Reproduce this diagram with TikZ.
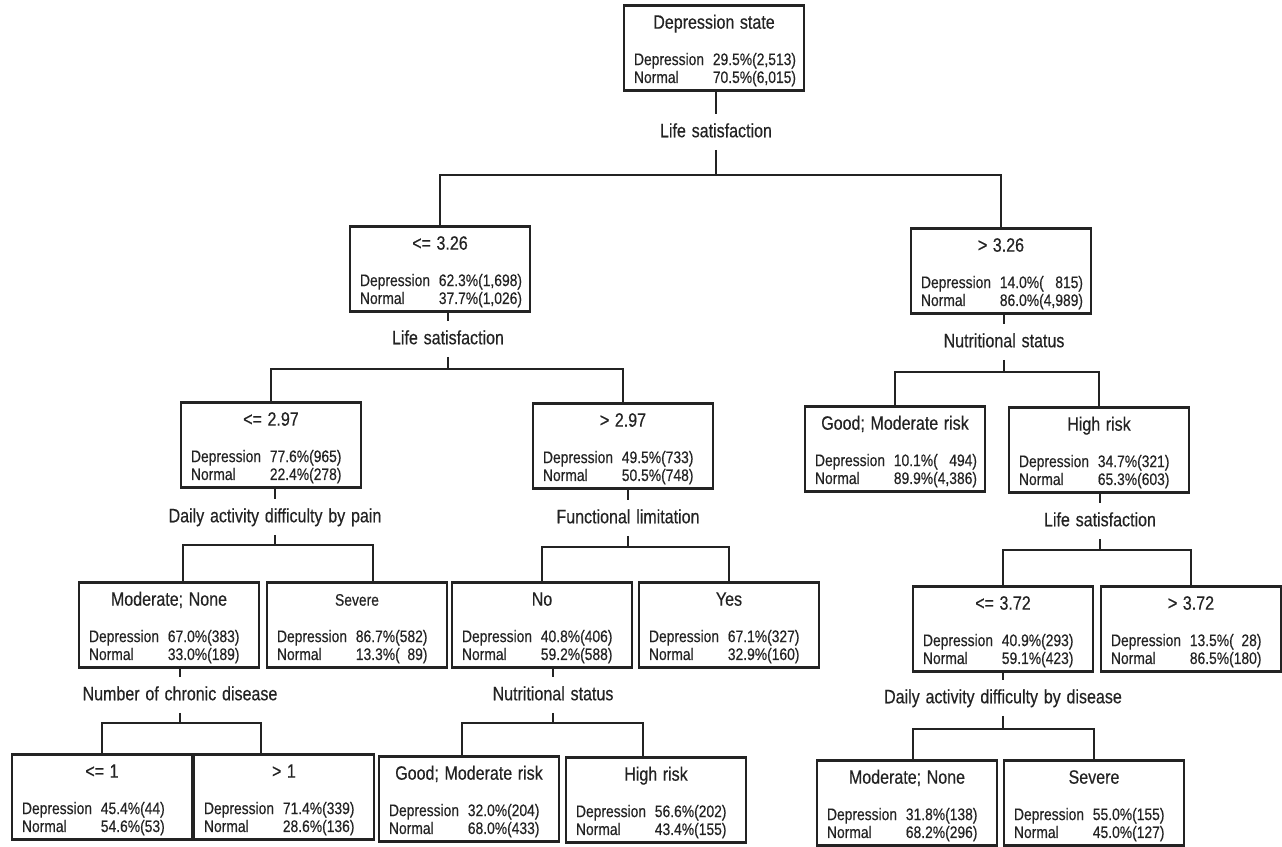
\documentclass[tikz,border=0pt]{standalone}
\usepackage{fontspec}
\setmainfont{Liberation Sans}[FakeStretch=0.83, WordSpace=1.3, FakeBold=0.4]
\usetikzlibrary{positioning}
\definecolor{ink}{RGB}{35,35,35}
\newcommand{\ttlfont}{\fontsize{11}{12.5}\selectfont}
\newcommand{\bodyfont}{\fontsize{9.5}{10.2}\selectfont}
\newcommand{\boxtext}[3]{\makebox[\linewidth]{\ttlfont\rule{0pt}{12pt}#1}\\[10.5pt]%
  \begin{tabular}[t]{@{}l@{\hspace{5pt}}r@{}}Depression & #2\\ Normal & #3\end{tabular}}
\tikzstyle{leaf} = [rectangle, draw=ink, line width=1.4pt, text=ink, text width=3.2cm, inner xsep=0.2cm, inner ysep=0pt, minimum height=1.7cm, align=left, font=\bodyfont]
\tikzstyle{split} = [text=ink, font=\fontsize{11}{12.5}\selectfont, text height=8pt, text depth=2pt, inner ysep=5pt]
\tikzstyle{conn} = [draw=ink, line width=0.9pt]

\begin{document}
\begin{tikzpicture}[x=0.02cm, y=-0.02cm]
\useasboundingbox (0,0) rectangle (1282,847);

% root
\node (root) [leaf] at (714,48) {\boxtext{Depression state}{29.5\%(2,513)}{70.5\%(6,015)}};
\node (s0) [split] at (716,132) {Life satisfaction};
\coordinate (j0) at (716,175);

% level 1
\node (n1) [leaf] at (440,269) {\boxtext{<= 3.26}{62.3\%(1,698)}{37.7\%(1,026)}};
\node (n2) [leaf] at (1001,271) {\boxtext{> 3.26}{14.0\%(\phantom{0,}815)}{86.0\%(4,989)}};
\node (s1) [split] at (448,339) {Life satisfaction};
\node (s2) [split] at (1004,342) {Nutritional status};
\coordinate (j1) at (448,369);
\coordinate (j2) at (1004,372);

% level 2
\node (n3) [leaf] at (271,445) {\boxtext{<= 2.97}{77.6\%(965)}{22.4\%(278)}};
\node (n4) [leaf] at (623,446) {\boxtext{> 2.97}{49.5\%(733)}{50.5\%(748)}};
\node (n5) [leaf] at (895,449) {\boxtext{Good; Moderate risk}{10.1\%(\phantom{0,}494)}{89.9\%(4,386)}};
\node (n6) [leaf] at (1099,450) {\boxtext{High risk}{34.7\%(321)}{65.3\%(603)}};
\node (s3) [split] at (275,517) {Daily activity difficulty by pain};
\node (s4) [split] at (628,518) {Functional limitation};
\node (s5) [split] at (1100,521) {Life satisfaction};
\coordinate (j3) at (275,545);
\coordinate (j4) at (628,547);
\coordinate (j5) at (1100,550);

% level 3
\node (n7) [leaf] at (169,625) {\boxtext{Moderate; None}{67.0\%(383)}{33.0\%(189)}};
\node (n8) [leaf] at (357,625) {\boxtext{\fontsize{9.5}{11}\selectfont Severe}{86.7\%(582)}{13.3\%(\phantom{0}89)}};
\node (n9) [leaf] at (542,625) {\boxtext{No}{40.8\%(406)}{59.2\%(588)}};
\node (n10) [leaf] at (729,625) {\boxtext{Yes}{67.1\%(327)}{32.9\%(160)}};
\node (n11) [leaf] at (1003,629) {\boxtext{<= 3.72}{40.9\%(293)}{59.1\%(423)}};
\node (n12) [leaf] at (1191,629) {\boxtext{> 3.72}{13.5\%(\phantom{0}28)}{86.5\%(180)}};
\node (s6) [split] at (180,695) {Number of chronic disease};
\node (s7) [split] at (553,695) {Nutritional status};
\node (s8) [split] at (1003,698) {Daily activity difficulty by disease};
\coordinate (j6) at (180,723);
\coordinate (j7) at (553,723);
\coordinate (j8) at (1003,729);

% level 4
\node (n13) [leaf] at (102,797) {\boxtext{<= 1}{45.4\%(44)}{54.6\%(53)}};
\node (n14) [leaf] at (284,797) {\boxtext{> 1}{71.4\%(339)}{28.6\%(136)}};
\node (n15) [leaf] at (469,799) {\boxtext{Good; Moderate risk}{32.0\%(204)}{68.0\%(433)}};
\node (n16) [leaf] at (656,800) {\boxtext{High risk}{56.6\%(202)}{43.4\%(155)}};
\node (n17) [leaf] at (907,803) {\boxtext{Moderate; None}{31.8\%(138)}{68.2\%(296)}};
\node (n18) [leaf] at (1094,803) {\boxtext{Severe}{55.0\%(155)}{45.0\%(127)}};

% connectors
\draw [conn] (root.south -| s0.north) -- (s0.north);
\draw [conn] (s0.south) -- (j0);
\draw [conn] (j0) -| (n1.north);
\draw [conn] (j0) -| (n2.north);

\draw [conn] (n1.south -| s1.north) -- (s1.north);
\draw [conn] (s1.south) -- (j1);
\draw [conn] (j1) -| (n3.north);
\draw [conn] (j1) -| (n4.north);

\draw [conn] (n2.south -| s2.north) -- (s2.north);
\draw [conn] (s2.south) -- (j2);
\draw [conn] (j2) -| (n5.north);
\draw [conn] (j2) -| (n6.north);

\draw [conn] (n3.south -| s3.north) -- (s3.north);
\draw [conn] (s3.south) -- (j3);
\draw [conn] (j3) -| ([xshift=0.28cm]n7.north);
\draw [conn] (j3) -| ([xshift=0.32cm]n8.north);

\draw [conn] (n4.south -| s4.north) -- (s4.north);
\draw [conn] (s4.south) -- (j4);
\draw [conn] (j4) -| (n9.north);
\draw [conn] (j4) -| (n10.north);

\draw [conn] (n6.south -| s5.north) -- (s5.north);
\draw [conn] (s5.south) -- (j5);
\draw [conn] (j5) -| (n11.north);
\draw [conn] (j5) -| (n12.north);

\draw [conn] (n7.south -| s6.north) -- (s6.north);
\draw [conn] (s6.south) -- (j6);
\draw [conn] (j6) -| (n13.north);
\draw [conn] (j6) -| ([xshift=-0.46cm]n14.north);

\draw [conn] (n9.south -| s7.north) -- (s7.north);
\draw [conn] (s7.south) -- (j7);
\draw [conn] (j7) -| ([xshift=-0.14cm]n15.north);
\draw [conn] (j7) -| ([xshift=-0.26cm]n16.north);

\draw [conn] (n11.south -| s8.north) -- (s8.north);
\draw [conn] (s8.south) -- (j8);
\draw [conn] (j8) -| ([xshift=0.12cm]n17.north);
\draw [conn] (j8) -| (n18.north);
\end{tikzpicture}
\end{document}
